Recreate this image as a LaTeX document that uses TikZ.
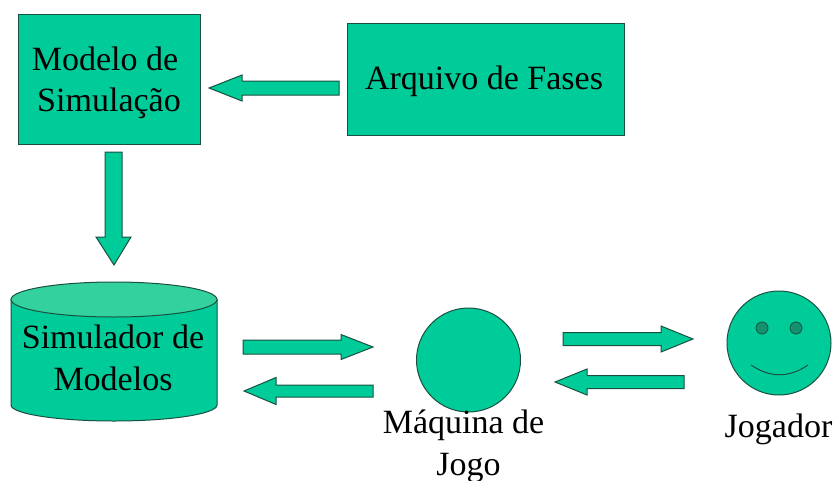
\documentclass[tikz,border=0pt]{standalone}
\usepackage{fontspec}
\setmainfont{Liberation Serif}
\definecolor{fillg}{RGB}{0,204,153}
\definecolor{lightg}{RGB}{51,209,158}
\definecolor{darkg}{RGB}{18,146,110}
\definecolor{edgeg}{RGB}{25,80,65}
\tikzset{
  shapeg/.style={draw=edgeg,line width=1pt,fill=fillg},
  labelt/.style={font=\fontsize{34}{41.5}\selectfont,text=black,align=center,inner sep=0pt},
  boxg/.style={shapeg,rectangle,inner sep=0pt,anchor=north west},
  circg/.style={shapeg,circle,inner sep=0pt},
  eyeg/.style={circle,draw=edgeg,line width=0.8pt,fill=darkg,minimum size=12pt,inner sep=0pt}
}
\newcommand{\harrow}[6]{% tailx tipx y shaftHalf headbase headHalf
  \draw[shapeg] (#1,#3-#4) -- (#5,#3-#4) -- (#5,#3-#6) -- (#2,#3) -- (#5,#3+#6) -- (#5,#3+#4) -- (#1,#3+#4) -- cycle;
}
\begin{document}
\begin{tikzpicture}[x=1pt,y=-1pt]
\useasboundingbox (0,0) rectangle (835,480);
\node[boxg,minimum width=182pt,minimum height=130pt] (modelo) at (18,14) {};
\node[labelt] (modelot) at (105,83) {Modelo de\\\hspace*{8pt}Simulação};
\node[boxg,minimum width=277pt,minimum height=112pt] (arquivo) at (347,23) {};
\node[labelt] (arquivot) at (484,81) {Arquivo de Fases};
\harrow{339}{209}{88}{7}{242}{13}
\draw[shapeg] (105,152) -- (122,152) -- (122,237) -- (131,237) -- (114,265) -- (96,237) -- (105,237) -- cycle;
% cylinder
\draw[shapeg] (11,299.5) -- (11,405) arc[start angle=180,end angle=0,x radius=103,y radius=16] -- (217,299.5) -- cycle;
\draw[shapeg,fill=lightg] (114,299.5) ellipse[x radius=103,y radius=17.5];
\node[labelt] (simt) at (113,358) {Simulador de\\Modelos};
\harrow{243}{373}{347}{7}{341}{12.5}
\harrow{373}{244}{391}{6}{276}{13.5}
\node[circg,minimum size=104pt] (maq) at (468.5,360) {};
\node[labelt,anchor=north] (maqt) at (463.5,410) {Máquina de\\\hspace*{10pt}Jogo};
\harrow{563}{693}{339}{6.5}{661}{13}
\harrow{684}{555}{382}{6.5}{587}{13}
\node[circg,minimum size=104pt] (face) at (779,343) {};
\node[eyeg] (eyel) at (762,328) {};
\node[eyeg] (eyer) at (796,328) {};
\draw[edgeg,line width=1pt] (751,365) .. controls (770,378) and (789,378) .. (808,365);
\node[labelt] (jog) at (778.5,429) {Jogador};
\end{tikzpicture}
\end{document}
